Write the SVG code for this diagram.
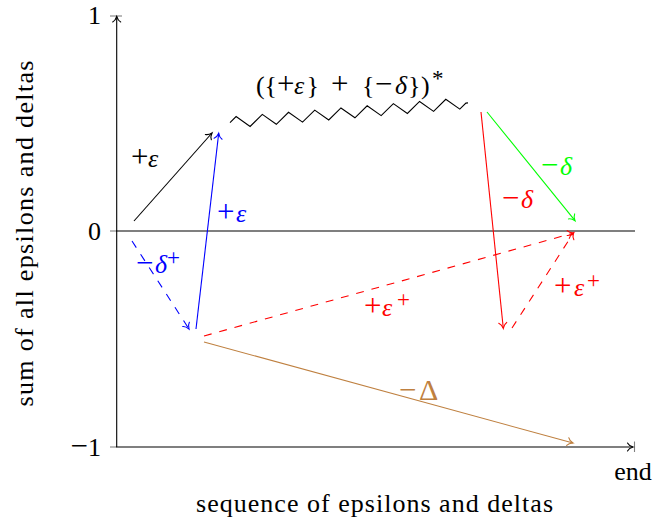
<svg xmlns="http://www.w3.org/2000/svg" width="656" height="521" viewBox="0 0 656 521">
<style>
text{font-family:"Liberation Serif","DejaVu Serif",serif;font-size:26px}
.it{font-style:italic}
.op{font-size:31px}
.sup{font-size:23px}
.ln{fill:none;stroke-width:1.1}
.dash{stroke-dasharray:7.9 7.9}
.tick{stroke:#808080;stroke-width:1.1}
</style>
<defs>
<marker id="aK" markerUnits="userSpaceOnUse" orient="auto" refX="0" refY="0" markerWidth="12" markerHeight="12" viewBox="-8 -6 10 12" overflow="visible"><path d="M-5.5,-4 C-4.4,-1.8 -1.6,-0.5 0,0 C-1.6,0.5 -4.4,1.8 -5.5,4" fill="none" stroke="#000" stroke-width="1.1" stroke-linecap="round"/></marker>
<marker id="aB" markerUnits="userSpaceOnUse" orient="auto" refX="0" refY="0" markerWidth="12" markerHeight="12" viewBox="-8 -6 10 12" overflow="visible"><path d="M-5.5,-4 C-4.4,-1.8 -1.6,-0.5 0,0 C-1.6,0.5 -4.4,1.8 -5.5,4" fill="none" stroke="#0000ff" stroke-width="1.1" stroke-linecap="round"/></marker>
<marker id="aR" markerUnits="userSpaceOnUse" orient="auto" refX="0" refY="0" markerWidth="12" markerHeight="12" viewBox="-8 -6 10 12" overflow="visible"><path d="M-5.5,-4 C-4.4,-1.8 -1.6,-0.5 0,0 C-1.6,0.5 -4.4,1.8 -5.5,4" fill="none" stroke="#ff0000" stroke-width="1.1" stroke-linecap="round"/></marker>
<marker id="aG" markerUnits="userSpaceOnUse" orient="auto" refX="0" refY="0" markerWidth="12" markerHeight="12" viewBox="-8 -6 10 12" overflow="visible"><path d="M-5.5,-4 C-4.4,-1.8 -1.6,-0.5 0,0 C-1.6,0.5 -4.4,1.8 -5.5,4" fill="none" stroke="#00ff00" stroke-width="1.1" stroke-linecap="round"/></marker>
<marker id="aO" markerUnits="userSpaceOnUse" orient="auto" refX="0" refY="0" markerWidth="12" markerHeight="12" viewBox="-8 -6 10 12" overflow="visible"><path d="M-5.5,-4 C-4.4,-1.8 -1.6,-0.5 0,0 C-1.6,0.5 -4.4,1.8 -5.5,4" fill="none" stroke="#bf8040" stroke-width="1.1" stroke-linecap="round"/></marker>
</defs>
<rect width="656" height="521" fill="#fff"/>
<g id="axes">
<line class="tick" x1="110" y1="16" x2="122" y2="16"/>
<line class="tick" x1="110" y1="231" x2="117" y2="231"/>
<line class="tick" x1="110" y1="447" x2="117" y2="447"/>
<line class="tick" x1="634.5" y1="441.5" x2="634.5" y2="452"/>
<line class="ln" stroke="#000" x1="116.7" y1="447" x2="116.7" y2="16.5" marker-end="url(#aK)"/>
<line class="ln" stroke="#000" x1="116.2" y1="447" x2="633" y2="447" marker-end="url(#aK)"/>
<line class="ln" stroke="#000" x1="116.2" y1="231" x2="635" y2="231"/>
<text x="101" y="24" text-anchor="end">1</text>
<text x="101" y="240" text-anchor="end">0</text>
<text x="101" y="455.5" text-anchor="end"><tspan class="op">−</tspan>1</text>
<text x="633" y="480" text-anchor="middle">end</text>
<text x="374.5" y="512" text-anchor="middle" textLength="357" lengthAdjust="spacing">sequence of epsilons and deltas</text>
<text transform="translate(33,233.5) rotate(-90)" text-anchor="middle" textLength="346" lengthAdjust="spacing">sum of all epsilons and deltas</text>
</g>
<g id="connectors">
<line class="ln" stroke="#000" x1="134" y1="221" x2="212" y2="133" marker-end="url(#aK)"/>
<line class="ln dash" stroke="#0000ff" x1="132" y1="241" x2="189" y2="329" marker-end="url(#aB)"/>
<line class="ln" stroke="#0000ff" x1="196" y1="329" x2="218.7" y2="133.3" marker-end="url(#aB)"/>
<line class="ln dash" stroke="#ff0000" x1="204" y1="336" x2="573.5" y2="233" marker-end="url(#aR)"/>
<line class="ln" stroke="#bf8040" x1="204" y1="342" x2="573" y2="443" marker-end="url(#aO)"/>
<line class="ln" stroke="#ff0000" x1="481" y1="112" x2="503.3" y2="328.3" marker-end="url(#aR)"/>
<line class="ln" stroke="#00ff00" x1="487" y1="112" x2="575" y2="220.7" marker-end="url(#aG)"/>
<line class="ln dash" stroke="#ff0000" x1="512" y1="328" x2="573.5" y2="233" marker-end="url(#aR)"/>
<polyline id="zigzag" class="ln" stroke="#000" points="230,122.6 236.1,116.58 250.11,126.46 262.31,114.42 276.32,124.3 288.52,112.25 302.53,122.14 314.73,110.09 328.74,119.97 340.94,107.93 354.95,117.81 367.16,105.77 381.17,115.65 393.37,103.61 407.38,113.49 419.58,101.44 433.59,111.33 445.79,99.28 459.8,109.16 465.9,103.14 468,102.9"/>
</g>
<g id="labels">
<text id="l-eps-black" y="166.5" fill="#000"><tspan class="op" x="131">+</tspan><tspan class="it" x="148">ε</tspan></text>
<text id="l-eps-blue" y="221.5" fill="#0000ff"><tspan class="op" x="217">+</tspan><tspan class="it" x="236">ε</tspan></text>
<text id="l-delta-blue" y="273" fill="#0000ff"><tspan class="op" x="136">−</tspan><tspan class="it" x="155">δ</tspan><tspan class="sup" x="167" y="265">+</tspan></text>
<text id="l-epsplus-red" y="316" fill="#ff0000"><tspan class="op" x="364">+</tspan><tspan class="it" x="382">ε</tspan><tspan class="sup" x="397" y="307">+</tspan></text>
<text id="l-Delta" y="400" fill="#bf8040"><tspan class="op" x="399">−</tspan><tspan x="419" font-size="30">Δ</tspan></text>
<text id="l-delta-green" y="175" fill="#00ff00"><tspan class="op" x="541">−</tspan><tspan class="it" x="560">δ</tspan></text>
<text id="l-delta-red" y="208" fill="#ff0000"><tspan class="op" x="502">−</tspan><tspan class="it" x="521">δ</tspan></text>
<text id="l-epsplus-red2" y="296" fill="#ff0000"><tspan class="op" x="554">+</tspan><tspan class="it" x="574">ε</tspan><tspan class="sup" x="587" y="288">+</tspan></text>
<text id="l-zigzag" y="94" fill="#000"><tspan x="256">(</tspan><tspan x="264.5">{</tspan><tspan class="op" x="277">+</tspan><tspan class="it" x="294">ε</tspan><tspan x="306.5">}</tspan><tspan class="op" x="331">+</tspan><tspan x="362">{</tspan><tspan class="op" x="375">−</tspan><tspan class="it" x="395">δ</tspan><tspan x="408">}</tspan><tspan x="421">)</tspan><tspan class="sup" x="432" y="86">*</tspan></text>
</g>
</svg>
